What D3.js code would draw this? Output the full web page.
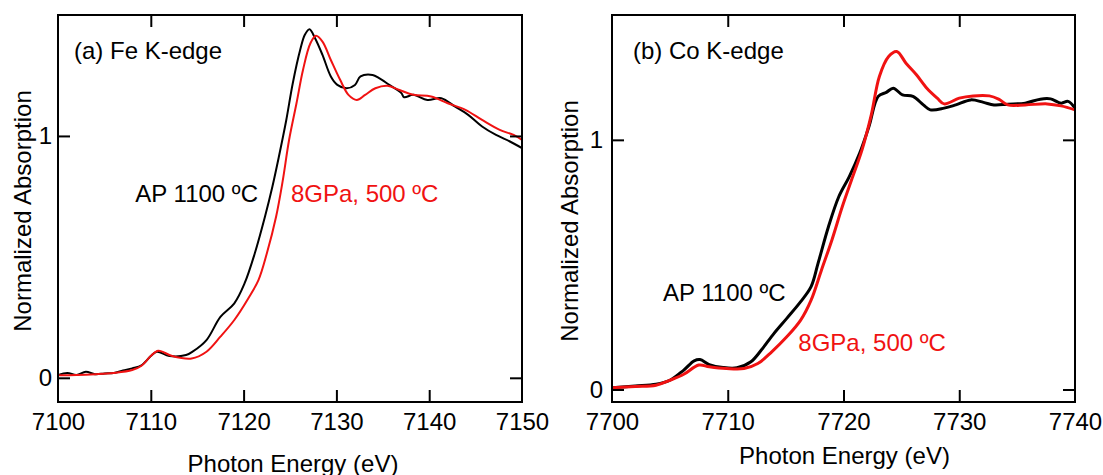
<!DOCTYPE html>
<html>
<head>
<meta charset="utf-8">
<script src="https://cdn.jsdelivr.net/npm/d3@7"></script>
<style>
  body { margin: 0; background: #fff; }
  svg { font-family: "Liberation Sans", Arial, Helvetica, sans-serif; }
</style>
</head>
<body>
<div id="app"></div>
<script>
// Fe K-edge, [photon energy (eV), normalized absorption]
const feAP = [
  [7100, 0.011], [7101, 0.02], [7102, 0.012], [7103, 0.025], [7104, 0.015], [7105, 0.018],
  [7106, 0.02], [7107, 0.03], [7108, 0.039], [7109, 0.052], [7110, 0.09], [7110.65, 0.108],
  [7112, 0.09], [7113.8, 0.094], [7114.5, 0.108], [7116, 0.156], [7117.5, 0.252],
  [7119, 0.308], [7120.1, 0.39], [7121.2, 0.514], [7122.3, 0.666], [7123.1, 0.79],
  [7123.8, 0.914], [7124.6, 1.066], [7125.3, 1.218], [7126.1, 1.356], [7126.6, 1.418],
  [7127.1, 1.441], [7127.7, 1.404], [7128.5, 1.335], [7129.4, 1.246], [7130.1, 1.211],
  [7131.1, 1.197], [7132, 1.211], [7132.6, 1.246], [7133.9, 1.252], [7134.6, 1.239],
  [7135.7, 1.211], [7137, 1.177], [7137.3, 1.16], [7138.3, 1.17], [7139.8, 1.149],
  [7141.3, 1.156], [7142.8, 1.121], [7144.2, 1.087], [7145.7, 1.039], [7147.2, 1.004],
  [7148.7, 0.977], [7150, 0.95]
];
const fePressed = [
  [7100, 0.011], [7102, 0.012], [7104, 0.015], [7106, 0.02], [7108, 0.032], [7109, 0.05],
  [7110, 0.09], [7110.8, 0.112], [7112.3, 0.09], [7114.4, 0.08], [7116, 0.108],
  [7117.5, 0.17], [7119, 0.239], [7120.5, 0.328], [7121.6, 0.404], [7122.5, 0.514],
  [7123.5, 0.666], [7124.2, 0.811], [7124.9, 0.983], [7125.7, 1.135], [7126.4, 1.273],
  [7127.2, 1.383], [7127.8, 1.414], [7128.5, 1.39], [7129.4, 1.314], [7130.4, 1.232],
  [7131.3, 1.17], [7132.2, 1.149], [7133.1, 1.17], [7134.2, 1.197], [7135.5, 1.207],
  [7136.8, 1.19], [7138.3, 1.17], [7140.2, 1.163], [7142, 1.135], [7143.9, 1.108],
  [7145.7, 1.066], [7147.6, 1.025], [7149.1, 1.004], [7150, 0.983]
];

// Co K-edge
const coAP = [
  [7700, 0.007], [7702, 0.014], [7703.8, 0.021], [7705, 0.037], [7706.2, 0.078],
  [7707.1, 0.115], [7707.6, 0.12], [7708.4, 0.1], [7709.6, 0.088], [7710.8, 0.087],
  [7712, 0.111], [7712.9, 0.158], [7714, 0.225], [7715.1, 0.285], [7716.3, 0.352],
  [7717.2, 0.412], [7717.8, 0.505], [7718.7, 0.652], [7719.6, 0.773], [7720.5, 0.853],
  [7721.4, 0.947], [7722.2, 1.053], [7723, 1.174], [7723.7, 1.19], [7724.3, 1.207],
  [7725.1, 1.18], [7726, 1.174], [7726.9, 1.14], [7727.5, 1.12], [7728.7, 1.127],
  [7729.7, 1.14], [7731, 1.16], [7732.1, 1.15], [7733, 1.14], [7734.2, 1.143],
  [7735.7, 1.147], [7737, 1.163], [7737.9, 1.164], [7738.8, 1.147], [7739.4, 1.154],
  [7740, 1.127]
];
const coPressed = [
  [7700, 0.007], [7702, 0.012], [7703.8, 0.017], [7705, 0.037], [7706.2, 0.061],
  [7707.5, 0.098], [7708.4, 0.091], [7709.9, 0.084], [7711.4, 0.084], [7712.6, 0.104],
  [7713.8, 0.151], [7715.1, 0.211], [7716.3, 0.278], [7717.2, 0.358], [7718.1, 0.479],
  [7719, 0.599], [7719.9, 0.733], [7720.8, 0.853], [7721.6, 0.96], [7722.4, 1.1],
  [7723.1, 1.254], [7723.9, 1.334], [7724.6, 1.354], [7725.4, 1.307], [7726.3, 1.261],
  [7727.2, 1.207], [7728.1, 1.167], [7728.7, 1.144], [7730, 1.167], [7731.2, 1.176],
  [7732.6, 1.176], [7733.4, 1.163], [7734.2, 1.14], [7735.7, 1.14], [7737.6, 1.144],
  [7738.8, 1.136], [7740, 1.12]
];

const feXTicks = [7100, 7110, 7120, 7130, 7140, 7150];
const coXTicks = [7700, 7710, 7720, 7730, 7740];
const yTicks = [0, 1];
const seriesLabels = ["AP 1100 ºC", "8GPa, 500 ºC"];
const panelTitles = ["(a) Fe K-edge", "(b) Co K-edge"];
const xTitle = "Photon Energy (eV)";
const yTitle = "Normalized Absorption";

const width = 1103;
const height = 475;
const fontSize = 24;
const red = "#f01212";

const svg = d3.select('#app')
  .append('svg')
  .attr('width', width)
  .attr('height', height);

function drawPanel(p) {
  const x = d3.scaleLinear().domain(p.xDomain).range([p.left, p.right]);
  const y = d3.scaleLinear().domain(p.yDomain).range([p.bottom, p.top]);
  const g = svg.append('g');

  // lines
  const line = d3.line().curve(d3.curveCatmullRom.alpha(0.5))
    .x(d => x(d[0])).y(d => y(d[1]));
  g.append('path').datum(p.black)
    .attr('d', line).attr('fill', 'none').attr('stroke', '#000')
    .attr('stroke-width', p.lw).attr('stroke-linejoin', 'round');
  g.append('path').datum(p.red)
    .attr('d', line).attr('fill', 'none').attr('stroke', red)
    .attr('stroke-width', p.lw).attr('stroke-linejoin', 'round');

  // axes, ticks pointing inward on all four sides
  const inner = p.xTicks.slice(1, -1);
  const bottomAxis = g.append('g')
    .attr('transform', `translate(0,${p.bottom})`)
    .call(d3.axisBottom(x).tickValues(p.xTicks).tickSize(-12).tickPadding(11).tickFormat(d3.format('d')));
  bottomAxis.selectAll('.tick line').filter(d => !inner.includes(d)).remove();
  g.append('g')
    .attr('transform', `translate(0,${p.top})`)
    .call(d3.axisTop(x).tickValues(inner).tickSize(-12).tickFormat(''));
  g.append('g')
    .attr('transform', `translate(${p.left},0)`)
    .call(d3.axisLeft(y).tickValues(yTicks).tickSize(-12).tickPadding(p.yPad).tickFormat(d3.format('d')));
  g.append('g')
    .attr('transform', `translate(${p.right},0)`)
    .call(d3.axisRight(y).tickValues(yTicks).tickSize(-12).tickFormat(''));

  g.selectAll('.domain').remove();
  g.selectAll('.tick line').attr('stroke', '#000').attr('stroke-width', 2);
  g.selectAll('.tick text').attr('font-size', fontSize).attr('fill', '#000')
    .attr('font-family', '"Liberation Sans", Arial, sans-serif');

  // frame
  g.append('rect')
    .attr('x', p.left).attr('y', p.top)
    .attr('width', p.right - p.left).attr('height', p.bottom - p.top)
    .attr('fill', 'none').attr('stroke', '#000').attr('stroke-width', 2);

  // titles
  g.append('text')
    .attr('x', (p.left + p.right) / 2 + p.xTitleShift).attr('y', p.xTitleY)
    .attr('text-anchor', 'middle').attr('font-size', fontSize).text(xTitle);
  g.append('text')
    .attr('transform', `translate(${p.yTitleX},${p.yTitleCY}) rotate(-90)`)
    .attr('text-anchor', 'middle').attr('font-size', fontSize).text(yTitle);
  g.append('text')
    .attr('x', p.left + p.titleDx).attr('y', 59)
    .attr('font-size', fontSize).text(p.title);

  // series labels
  g.append('text')
    .attr('x', x(p.blackLabel[0])).attr('y', y(p.blackLabel[1]))
    .attr('text-anchor', 'end').attr('font-size', fontSize).attr('fill', '#000')
    .text(seriesLabels[0]);
  g.append('text')
    .attr('x', x(p.redLabel[0])).attr('y', y(p.redLabel[1]))
    .attr('font-size', fontSize).attr('fill', red)
    .text(seriesLabels[1]);
}

drawPanel({
  left: 58, right: 522, top: 15, bottom: 402,
  xDomain: [7100, 7150], yDomain: [-0.1, 1.5],
  xTicks: feXTicks, black: feAP, red: fePressed, lw: 2, yPad: 6,
  title: panelTitles[0], titleDx: 16,
  xTitleShift: 3, xTitleY: 472, yTitleX: 31, yTitleCY: 211,
  blackLabel: [7121.55, 0.727], redLabel: [7125.1, 0.727]
});

drawPanel({
  left: 612, right: 1075, top: 15, bottom: 402,
  xDomain: [7700, 7740], yDomain: [-0.05, 1.5],
  xTicks: coXTicks, black: coAP, red: coPressed, lw: 3, yPad: 9,
  title: panelTitles[1], titleDx: 21,
  xTitleShift: 1, xTitleY: 464, yTitleX: 578, yTitleCY: 221,
  blackLabel: [7715, 0.353], redLabel: [7716.1, 0.153]
});
</script>
</body>
</html>
